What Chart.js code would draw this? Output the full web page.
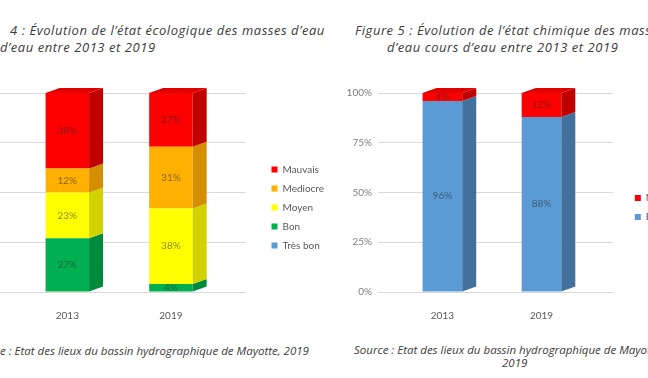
<!DOCTYPE html>
<html><head><meta charset="utf-8">
<script src="https://cdn.jsdelivr.net/npm/chart.js@4/dist/chart.umd.min.js"></script>
<style>
html,body{margin:0;padding:0;width:648px;height:378px;overflow:hidden;background:#fff;position:relative}
.t{position:absolute;white-space:nowrap;font-family:"Open Sans",sans-serif;font-style:italic;color:#3c3c3c;font-size:13px;letter-spacing:0.55px;line-height:16px}
.s{font-size:11.5px;letter-spacing:0}
canvas{position:absolute}
</style></head><body>
<div class="t" style="left:10px;top:22px">4 : Évolution de l’état écologique des masses d’eau</div>
<div class="t" style="left:0px;top:39px">d’eau entre 2013 et 2019</div>
<div class="t" style="left:355px;top:22px">Figure 5 : Évolution de l’état chimique des masses</div>
<div class="t" style="left:387px;top:39px">d’eau cours d’eau entre 2013 et 2019</div>
<div class="t s" style="left:0px;top:343px">e : Etat des lieux du bassin hydrographique de Mayotte, 2019</div>
<div class="t s" style="left:354px;top:342px">Source : Etat des lieux du bassin hydrographique de Mayotte,</div>
<div class="t s" style="left:502px;top:355px">2019</div>
<canvas id="c1" width="387" height="264" style="left:-60px;top:58px"></canvas>
<canvas id="c2" width="355" height="264" style="left:330px;top:58px"></canvas>
<script>
// ---- data ----
const years = ['2013', '2019'];
const ecoTresBon   = [0, 0];
const ecoBon       = [27, 4];
const ecoMoyen     = [23, 38];
const ecoMediocre  = [12, 31];
const ecoMauvais   = [38, 27];
const chimBon      = [96, 88];
const chimMauvais  = [4, 12];
const pctTicks     = [0, 25, 50, 75, 100];

const FONT = 'Lato, "Open Sans", sans-serif';
const pts = arr => arr.map((v, i) => ({ x: i, y: v }));

const depth3d = {
  id: 'depth3d',
  afterDatasetsDraw(chart, args, opts) {
    const ctx = chart.ctx, dx = opts.dx, dy = opts.dy;
    const dsets = chart.data.datasets;
    ctx.save();
    dsets.forEach((ds, di) => {
      const meta = chart.getDatasetMeta(di);
      meta.data.forEach((bar, i) => {
        if (!ds.data[i].y) return;
        const p = bar.getProps(['x', 'y', 'base', 'width'], true);
        const l = p.x - p.width / 2, r = p.x + p.width / 2;
        ctx.fillStyle = ds.sideColor;
        ctx.beginPath();
        ctx.moveTo(r, p.y); ctx.lineTo(r + dx, p.y + dy);
        ctx.lineTo(r + dx, p.base + dy); ctx.lineTo(r, p.base);
        ctx.closePath(); ctx.fill();
        let top = true;
        for (let k = di + 1; k < dsets.length; k++) if (dsets[k].data[i].y) top = false;
        if (top) {
          ctx.fillStyle = ds.topColor;
          ctx.beginPath();
          ctx.moveTo(l, p.y); ctx.lineTo(l + dx, p.y + dy);
          ctx.lineTo(r + dx, p.y + dy); ctx.lineTo(r, p.y);
          ctx.closePath(); ctx.fill();
        }
      });
    });
    ctx.restore();
  }
};

const valueLabels = {
  id: 'valueLabels',
  afterDatasetsDraw(chart) {
    const ctx = chart.ctx;
    ctx.save();
    ctx.font = '10px ' + FONT;
    ctx.fillStyle = 'rgba(40,40,40,0.55)';
    ctx.textAlign = 'center';
    ctx.textBaseline = 'middle';
    chart.data.datasets.forEach((ds, di) => {
      chart.getDatasetMeta(di).data.forEach((bar, i) => {
        const v = ds.data[i].y;
        if (!v) return;
        const p = bar.getProps(['x', 'y', 'base'], true);
        ctx.fillText(v + '%', p.x, (p.y + p.base) / 2);
      });
    });
    ctx.restore();
  }
};

function makeChart(id, datasets, opt) {
  return new Chart(document.getElementById(id), {
    type: 'bar',
    data: { datasets },
    options: {
      responsive: false,
      animation: false,
      layout: { padding: { top: 35, left: 0, right: 0, bottom: 0 } },
      datasets: { bar: { barPercentage: opt.barPct, categoryPercentage: 1 } },
      scales: {
        x: {
          type: 'linear',
          offset: false,
          stacked: true,
          min: -0.65, max: 1.72,
          afterBuildTicks(s) { s.ticks = years.map((y, i) => ({ value: i })); },
          grid: { display: false, drawTicks: false, offset: false },
          border: { display: false },
          ticks: {
            color: '#595959', font: { family: FONT, size: 10 }, padding: 18,
            callback: v => years[v]
          },
          afterFit(s) { s.height = 30; }
        },
        y: {
          stacked: true,
          min: 0, max: 100,
          afterBuildTicks(s) { s.ticks = pctTicks.map(v => ({ value: v })); },
          grid: { color: '#d9d9d9', drawTicks: false },
          border: { display: false },
          ticks: {
            display: opt.showY,
            color: '#7f7f7f', font: { family: FONT, size: 10 }, padding: opt.ypad,
            callback: v => v + '%'
          },
          afterFit(s) { s.width = opt.yw; }
        },
        gap: {
          type: 'linear', position: 'right', display: true,
          grid: { display: false }, border: { display: false },
          ticks: { display: false },
          afterFit(s) { s.width = opt.gap; }
        }
      },
      plugins: {
        legend: {
          position: 'right',
          reverse: true,
          labels: {
            boxWidth: 6, boxHeight: 6, padding: 9,
            color: '#595959', font: { family: FONT, size: 10 }
          }
        },
        tooltip: { enabled: false },
        depth3d: { dx: 14, dy: -5 }
      }
    },
    plugins: [depth3d, valueLabels]
  });
}

makeChart('c1', [
  { label: 'Très bon', data: pts(ecoTresBon), backgroundColor: '#5B9BD5', sideColor: '#41719C', topColor: '#4f8ac0' },
  { label: 'Bon', data: pts(ecoBon), backgroundColor: '#00B050', sideColor: '#008A3E', topColor: '#00a048' },
  { label: 'Moyen', data: pts(ecoMoyen), backgroundColor: '#FFFF00', sideColor: '#D2D200', topColor: '#eeee00' },
  { label: 'Mediocre', data: pts(ecoMediocre), backgroundColor: '#FFB000', sideColor: '#D48F00', topColor: '#eea400' },
  { label: 'Mauvais', data: pts(ecoMauvais), backgroundColor: '#FF0000', sideColor: '#C00000', topColor: '#E00000' }
], { barPct: 0.42, showY: false, yw: 60, ypad: 16, gap: 17 });

makeChart('c2', [
  { label: 'Bon', data: pts(chimBon), backgroundColor: '#5B9BD5', sideColor: '#41719C', topColor: '#4f8ac0' },
  { label: 'Mauvais', data: pts(chimMauvais), backgroundColor: '#FF0000', sideColor: '#C00000', topColor: '#E00000' }
], { barPct: 0.4, showY: true, yw: 48, ypad: 6, gap: 13 });
</script>
</body></html>
